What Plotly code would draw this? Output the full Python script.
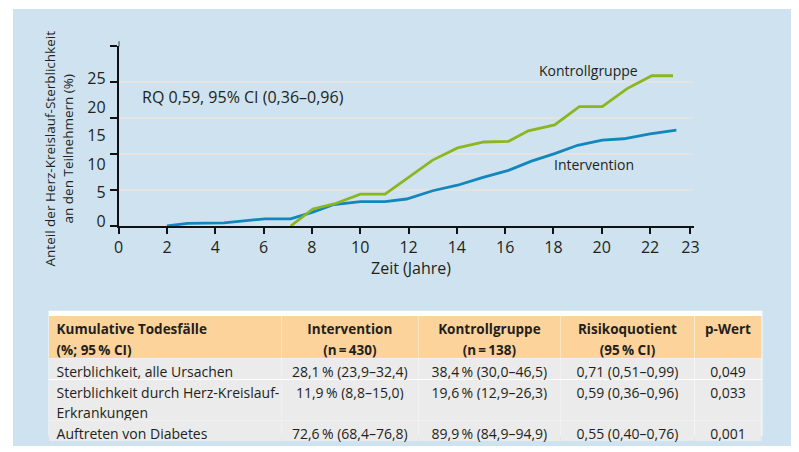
import plotly.graph_objects as go

# ---------------- data ----------------
years_int = [2.0, 2.86, 4.36, 6.06, 7.12, 8.04, 8.91, 10.01, 11.03, 11.92, 13.0, 14.03,
             15.05, 16.14, 17.09, 18.05, 19.0, 20.02, 20.91, 22.0, 23.09]
vals_int = [0.0, 0.37, 0.45, 1.0, 1.0, 1.93, 2.99, 3.4, 3.4, 3.76, 4.91, 5.68,
            6.74, 7.75, 9.04, 10.09, 11.24, 11.97, 12.15, 12.84, 13.35]

years_ctl = [7.12, 8.04, 8.92, 10.01, 11.03, 13.0, 14.03, 15.12, 16.14, 16.96, 18.05,
             19.07, 20.02, 21.05, 22.07, 22.95]
vals_ctl = [0.0, 2.38, 3.07, 4.44, 4.44, 9.18, 10.87, 11.7, 11.79, 13.25, 14.08,
            16.61, 16.61, 19.13, 20.92, 20.92]

x_tickvals = [0, 2, 4, 6, 8, 10, 12, 14, 16, 18, 20, 22, 23.67]
x_ticktext = ["0", "2", "4", "6", "8", "10", "12", "14", "16", "18", "20", "22", "23"]
y_grid_ticks = [0, 5, 10, 15, 20, 25]
y_label_ticks = [0, 5, 10, 15, 20, 25]

table_header = ["Kumulative Todesfälle\n(%; 95\u2009% CI)", "Intervention\n(n\u2009=\u2009430)",
                "Kontrollgruppe\n(n\u2009=\u2009138)", "Risikoquotient\n(95\u2009% CI)", "p-Wert"]
col_outcome = ["Sterblichkeit, alle Ursachen", "Sterblichkeit durch Herz-Kreislauf-\nErkrankungen",
               "Auftreten von Diabetes"]
col_intervention = ["28,1\u2009% (23,9–32,4)", "11,9\u2009% (8,8–15,0)", "72,6\u2009% (68,4–76,8)"]
col_control = ["38,4\u2009% (30,0–46,5)", "19,6\u2009% (12,9–26,3)", "89,9\u2009% (84,9–94,9)"]
col_rq = ["0,71 (0,51–0,99)", "0,59 (0,36–0,96)", "0,55 (0,40–0,76)"]
col_p = ["0,049", "0,033", "0,001"]

# ---------------- style ----------------
OFF = 8                      # browser body margin
W, H = 799 - OFF, 452 - OFF
BG_BLUE = "#cee3ef"
GREEN = "#8cb620"
BLUE = "#1386bd"
TXT = "#231f20"
FONT = "Open Sans"
ORANGE = "#fcd49b"
GRAY = "#ebebeb"
TABLE_UPLIFT = 5             # plotly draws tables 5px above the domain top


def px_x(p):
    return (p - OFF) / W


def px_y(p):
    return 1 - (p - OFF) / H


def split_row(cells):
    """One visual table row -> per-column lists of sub-lines (single lines on first sub-row).
    Spaces become non-breaking so plotly does not re-wrap the lines."""
    parts = [str(c).replace(" ", "\u00a0").split("\n") for c in cells]
    k = max(len(p) for p in parts)
    return [p + [""] * (k - len(p)) for p in parts]


table_rows = [table_header] + [list(r) for r in zip(col_outcome, col_intervention, col_control, col_rq, col_p)]

# visual layout of the table rows (pixel tops / sub-row heights)
row_tops = [315, 358, 380, 421]
row_heights = [21, 21, 20, 21]
row_fills = [ORANGE, GRAY, GRAY, GRAY]
row_weights = ["bold", "normal", "normal", "normal"]
row_sizes = [13.5, 14, 14, 14]
col_widths = [236, 139, 144, 136, 68]
col_align = ["left", "center", "center", "center", "center"]

fig = go.Figure()

fig.add_trace(go.Scatter(x=years_int, y=vals_int, mode="lines", line=dict(color=BLUE, width=2.8),
                         showlegend=False, hoverinfo="skip"))
fig.add_trace(go.Scatter(x=years_ctl, y=vals_ctl, mode="lines", line=dict(color=GREEN, width=2.8),
                         showlegend=False, hoverinfo="skip"))
# empty trace to activate label axis
fig.add_trace(go.Scatter(x=[None], y=[None], yaxis="y2", showlegend=False, hoverinfo="skip"))

for row, top, h, fill, wt, fs in zip(table_rows, row_tops, row_heights, row_fills, row_weights, row_sizes):
    fig.add_trace(go.Table(
        domain=dict(x=[px_x(44), px_x(767)], y=[0, min(1, px_y(top + TABLE_UPLIFT))]),
        columnwidth=col_widths,
        header=dict(values=split_row(row), fill_color=fill, align=col_align,
                    font=dict(family=FONT, size=fs, color=TXT, weight=wt), height=h,
                    line=dict(color=fill, width=0)),
        cells=dict(values=[[] for _ in row], height=h, line=dict(width=0)),
    ))

x_dom = [px_x(115), px_x(698)]
y_dom = [px_y(229), px_y(47)]

fig.update_layout(
    width=W, height=H,
    margin=dict(l=0, r=0, t=0, b=0),
    paper_bgcolor="white",
    plot_bgcolor="white",
    font=dict(family=FONT, color=TXT),
    xaxis=dict(domain=x_dom, range=[0, 23.83], tickvals=x_tickvals, ticktext=x_ticktext,
               showgrid=False, zeroline=False, showline=True, linecolor="#111", linewidth=1.5,
               ticks="outside", ticklen=6, tickwidth=1.5, tickcolor="#111",
               tickfont=dict(size=16, color=TXT), fixedrange=True),
    yaxis=dict(domain=y_dom, range=[0, 25], tickvals=y_grid_ticks, showticklabels=False,
               showgrid=True, gridcolor="#e3e3e3", gridwidth=1.5, zeroline=False,
               showline=True, linecolor="#111", linewidth=1.5,
               ticks="outside", ticklen=7, tickwidth=1.5, tickcolor="#111", fixedrange=True),
    yaxis2=dict(overlaying="y", side="left", range=[-0.85, 30.6], tickvals=y_label_ticks,
                showgrid=False, zeroline=False, showline=False, ticks="",
                ticklabelstandoff=12,
                tickfont=dict(size=16, color=TXT), fixedrange=True),
    shapes=[
        dict(type="rect", xref="paper", yref="paper", x0=px_x(8), x1=1, y0=0, y1=px_y(9),
             fillcolor=BG_BLUE, line=dict(width=0), layer="below"),
        dict(type="rect", xref="paper", yref="paper", x0=px_x(44), x1=px_x(767),
             y0=px_y(442), y1=px_y(315), fillcolor="white", line=dict(width=0), layer="below"),
        dict(type="line", xref="x", yref="paper", x0=0, x1=0, y0=px_y(47), y1=px_y(41.7),
             line=dict(color="#111", width=1.5)),
    ],
    annotations=[
        dict(text="RQ 0,59, 95% CI (0,36–0,96)", x=0.89, y=17.98, xref="x", yref="y",
             xanchor="left", yanchor="middle", showarrow=False, font=dict(size=16, color=TXT)),
        dict(text="Kontrollgruppe", x=19.44, y=21.65, xref="x", yref="y",
             xanchor="center", yanchor="middle", showarrow=False, font=dict(size=14, color=TXT)),
        dict(text="Intervention", x=19.69, y=8.57, xref="x", yref="y",
             xanchor="center", yanchor="middle", showarrow=False, font=dict(size=14, color=TXT)),
        dict(text="Anteil der Herz-Kreislauf-Sterblichkeit<br>an den Teilnehmern (%)",
             x=px_x(55), y=px_y(150), xref="paper", yref="paper", textangle=-90,
             xanchor="center", yanchor="middle", showarrow=False, font=dict(size=13.5, color=TXT)),
        dict(text="Zeit (Jahre)", x=px_x(411), y=px_y(272), xref="paper", yref="paper",
             xanchor="center", yanchor="middle", showarrow=False, font=dict(size=16, color=TXT)),
    ],
)

fig.write_html("out.html")
